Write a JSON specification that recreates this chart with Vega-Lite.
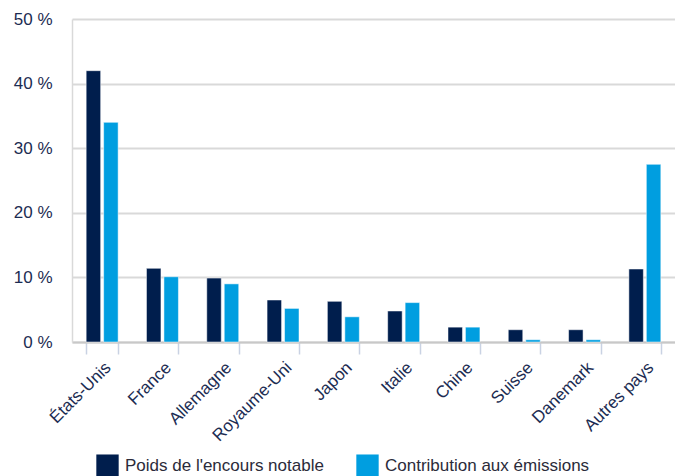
{
  "$schema": "https://vega.github.io/schema/vega-lite/v6.json",
  "width": 603,
  "height": 323,
  "autosize": {"type": "none"},
  "padding": {"left": 72, "top": 19, "right": 0, "bottom": 134},
  "background": "white",
  "config": {
    "font": "Liberation Sans",
    "view": {"stroke": null}
  },
  "data": {
    "values": [
      {"pays": "États-Unis", "serie": "Poids de l'encours notable", "valeur": 42.0},
      {"pays": "États-Unis", "serie": "Contribution aux émissions", "valeur": 34.0},
      {"pays": "France", "serie": "Poids de l'encours notable", "valeur": 11.4},
      {"pays": "France", "serie": "Contribution aux émissions", "valeur": 10.1},
      {"pays": "Allemagne", "serie": "Poids de l'encours notable", "valeur": 9.9},
      {"pays": "Allemagne", "serie": "Contribution aux émissions", "valeur": 9.0},
      {"pays": "Royaume-Uni", "serie": "Poids de l'encours notable", "valeur": 6.5},
      {"pays": "Royaume-Uni", "serie": "Contribution aux émissions", "valeur": 5.2},
      {"pays": "Japon", "serie": "Poids de l'encours notable", "valeur": 6.3},
      {"pays": "Japon", "serie": "Contribution aux émissions", "valeur": 3.9},
      {"pays": "Italie", "serie": "Poids de l'encours notable", "valeur": 4.8},
      {"pays": "Italie", "serie": "Contribution aux émissions", "valeur": 6.1},
      {"pays": "Chine", "serie": "Poids de l'encours notable", "valeur": 2.3},
      {"pays": "Chine", "serie": "Contribution aux émissions", "valeur": 2.3},
      {"pays": "Suisse", "serie": "Poids de l'encours notable", "valeur": 1.9},
      {"pays": "Suisse", "serie": "Contribution aux émissions", "valeur": 0.35},
      {"pays": "Danemark", "serie": "Poids de l'encours notable", "valeur": 1.9},
      {"pays": "Danemark", "serie": "Contribution aux émissions", "valeur": 0.35},
      {"pays": "Autres pays", "serie": "Poids de l'encours notable", "valeur": 11.3},
      {"pays": "Autres pays", "serie": "Contribution aux émissions", "valeur": 27.5}
    ]
  },
  "mark": {"type": "bar", "stroke": "white", "strokeWidth": 0.5},
  "encoding": {
    "x": {
      "field": "pays",
      "type": "nominal",
      "sort": null,
      "scale": {"paddingInner": 0.47, "paddingOuter": 0.235},
      "axis": {
        "title": null,
        "labelAngle": -45,
        "labelAlign": "right",
        "labelBaseline": "top",
        "labelFontSize": 17,
        "labelColor": "#1c2c52",
        "labelPadding": 5,
        "tickBand": "extent",
        "tickColor": "#c9d2e3",
        "tickSize": 12,
        "tickWidth": 1.5,
        "domainColor": "#c8c8c8",
        "domainWidth": 2
      }
    },
    "xOffset": {
      "field": "serie",
      "type": "nominal",
      "sort": ["Poids de l'encours notable", "Contribution aux émissions"],
      "scale": {"paddingInner": 0.17}
    },
    "y": {
      "field": "valeur",
      "type": "quantitative",
      "scale": {"domain": [0, 50], "nice": false},
      "axis": {
        "title": null,
        "values": [0, 10, 20, 30, 40, 50],
        "labelExpr": "datum.value + ' %'",
        "labelFontSize": 17,
        "labelColor": "#1c2c52",
        "labelPadding": 20,
        "ticks": false,
        "domain": true,
        "domainColor": "#d9d9d9",
        "domainWidth": 1.5,
        "grid": true,
        "gridColor": "#d9d9d9",
        "gridWidth": 1.8
      }
    },
    "color": {
      "field": "serie",
      "type": "nominal",
      "sort": ["Poids de l'encours notable", "Contribution aux émissions"],
      "scale": {
        "domain": ["Poids de l'encours notable", "Contribution aux émissions"],
        "range": ["#001e4d", "#009ee0"]
      },
      "legend": {
        "title": null,
        "orient": "none",
        "direction": "horizontal",
        "legendX": 24,
        "legendY": 435,
        "symbolType": "square",
        "symbolSize": 500,
        "symbolStrokeWidth": 0,
        "labelFontSize": 17,
        "labelColor": "#2b2b3a",
        "labelOffset": 6,
        "columnPadding": 32,
        "labelLimit": 400
      }
    }
  }
}
